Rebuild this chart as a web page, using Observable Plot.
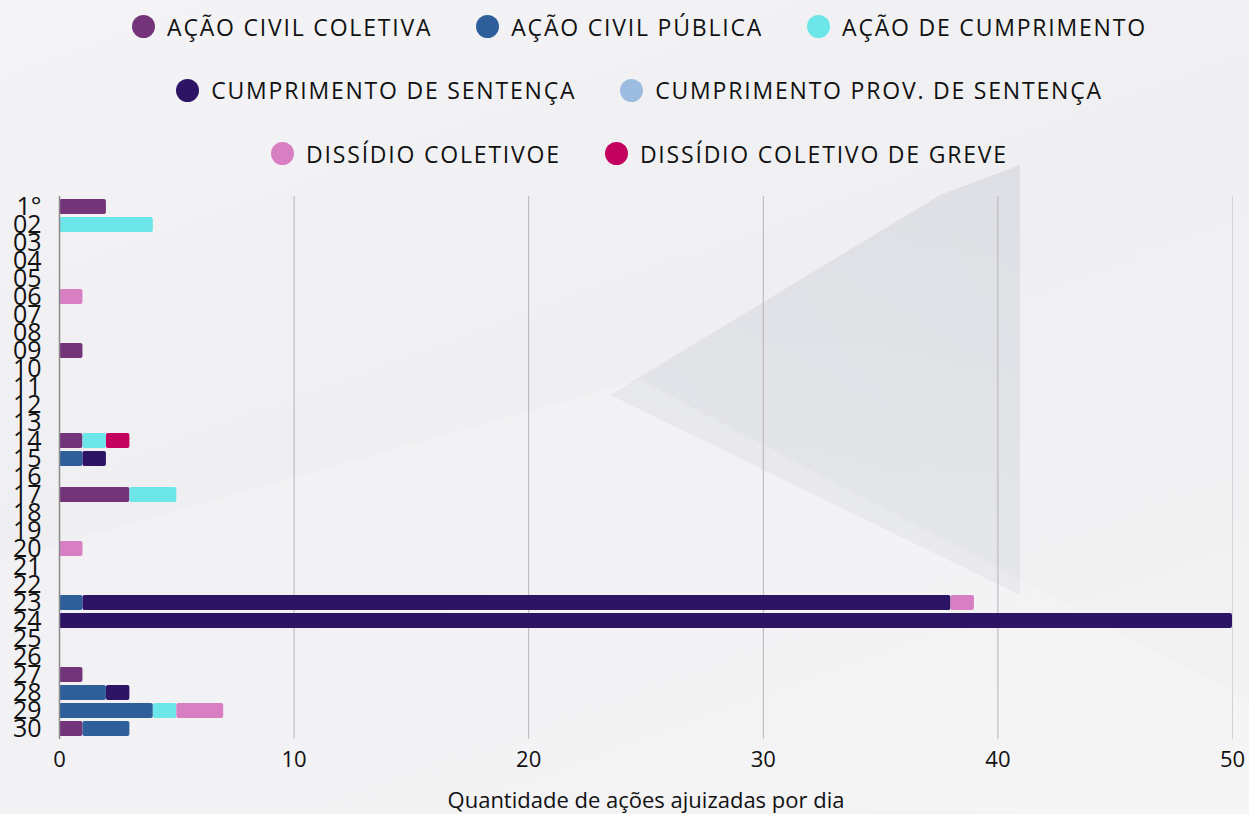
<!DOCTYPE html>
<html>
<head>
<meta charset="utf-8">
<script src="https://cdn.jsdelivr.net/npm/d3@7"></script>
<script src="https://cdn.jsdelivr.net/npm/@observablehq/plot@0.6"></script>
<style>
  html, body { margin: 0; padding: 0; }
  body {
    position: relative;
    width: 1249px; height: 814px; overflow: hidden;
    font-family: "Open Sans", sans-serif;
    background: linear-gradient(160deg, #f4f4f6 0%, #efeff2 45%, #f3f3f4 100%);
  }
  .deco { position: absolute; left: 0; top: 0; width: 1249px; height: 814px; pointer-events: none; }
  #deco1 { background: linear-gradient(200deg, rgba(150,160,178,0.24), rgba(170,178,190,0.06)); clip-path: polygon(610px 395px, 940px 195px, 1020px 165px, 1020px 595px); }
  #deco2 { background: rgba(255,255,255,0.18); clip-path: polygon(0px 560px, 640px 380px, 1249px 700px, 1249px 814px, 0px 814px); }
  #legend { position: relative; height: 185px; padding-left: 30px; box-sizing: border-box; }
  #legendInner { position: relative; top: -5px; }
  .row { display: flex; justify-content: center; align-items: center; height: 63.5px; }
  .item { display: flex; align-items: center; margin: 0 22px; font-size: 23px; letter-spacing: 1.8px; color: #111; white-space: nowrap; }
  .dot { width: 23px; height: 23px; border-radius: 50%; margin-right: 12px; }
  #chart { position: relative; }
  #chart svg { display: block; }
</style>
</head>
<body>
<div class="deco" id="deco1"></div>
<div class="deco" id="deco2"></div>
<div id="legend"><div id="legendInner"></div></div>
<div id="chart"></div>
<script>
const days = ["1°","02","03","04","05","06","07","08","09","10","11","12","13","14","15","16","17","18","19","20","21","22","23","24","25","26","27","28","29","30"];
const seriesNames = ["AÇÃO CIVIL COLETIVA","AÇÃO CIVIL PÚBLICA","AÇÃO DE CUMPRIMENTO","CUMPRIMENTO DE SENTENÇA","CUMPRIMENTO PROV. DE SENTENÇA","DISSÍDIO COLETIVOE","DISSÍDIO COLETIVO DE GREVE"];
const seriesColors = ["#74347a","#2e5f9a","#6de6ea","#2d1465","#9dbde0","#d87fc4","#c3005e"];
const legendRows = [[0,1,2],[3,4],[5,6]];

const acaoCivilColetiva      = [2,0,0,0,0,0,0,0,1,0,0,0,0,1,0,0,3,0,0,0,0,0,0,0,0,0,1,0,0,1];
const acaoCivilPublica       = [0,0,0,0,0,0,0,0,0,0,0,0,0,0,1,0,0,0,0,0,0,0,1,0,0,0,0,2,4,2];
const acaoDeCumprimento      = [0,4,0,0,0,0,0,0,0,0,0,0,0,1,0,0,2,0,0,0,0,0,0,0,0,0,0,0,1,0];
const cumprimentoSentenca    = [0,0,0,0,0,0,0,0,0,0,0,0,0,0,1,0,0,0,0,0,0,0,37,50,0,0,0,1,0,0];
const cumprimentoProvSent    = [0,0,0,0,0,0,0,0,0,0,0,0,0,0,0,0,0,0,0,0,0,0,0,0,0,0,0,0,0,0];
const dissidioColetivo       = [0,0,0,0,0,1,0,0,0,0,0,0,0,0,0,0,0,0,0,1,0,0,1,0,0,0,0,0,2,0];
const dissidioColetivoGreve  = [0,0,0,0,0,0,0,0,0,0,0,0,0,1,0,0,0,0,0,0,0,0,0,0,0,0,0,0,0,0];
const seriesValues = [acaoCivilColetiva, acaoCivilPublica, acaoDeCumprimento, cumprimentoSentenca, cumprimentoProvSent, dissidioColetivo, dissidioColetivoGreve];
const xTicks = [0,10,20,30,40,50];
const gridTicks = [10,20,30,40];
const xLabel = "Quantidade de ações ajuizadas por dia";

// legend
const legend = document.getElementById("legendInner");
for (const r of legendRows) {
  const row = document.createElement("div");
  row.className = "row";
  for (const i of r) {
    const it = document.createElement("div");
    it.className = "item";
    const dot = document.createElement("span");
    dot.className = "dot";
    dot.style.background = seriesColors[i];
    it.appendChild(dot);
    it.appendChild(document.createTextNode(seriesNames[i]));
    row.appendChild(it);
  }
  legend.appendChild(row);
}

const rows = [];
seriesNames.forEach((s, si) => {
  seriesValues[si].forEach((v, di) => {
    if (v > 0) rows.push({day: days[di], series: s, value: v});
  });
});

const chart = Plot.plot({
  width: 1249,
  height: 629,
  marginTop: 11,
  marginBottom: 75,
  marginLeft: 59,
  marginRight: 17,
  style: {background: "transparent", fontFamily: "Open Sans, sans-serif", color: "#111"},
  x: {domain: [0, 50]},
  y: {domain: days, padding: 0.16},
  color: {domain: seriesNames, range: seriesColors},
  marks: [
    Plot.ruleX(gridTicks, {stroke: "#b4b4b8", strokeWidth: 1}),
    Plot.ruleX([50], {stroke: "#d4d4d8", strokeWidth: 1}),
    Plot.barX(rows, {x: "value", y: "day", fill: "series", order: seriesNames, rx: 2}),
    Plot.ruleX([0], {stroke: "#8a8a8a", strokeWidth: 1.5}),
    Plot.axisX({ticks: xTicks, tickSize: 0, tickPadding: 12, fontSize: 22, label: xLabel, labelAnchor: "center", labelOffset: 68, labelArrow: "none"}),
    Plot.axisY({tickSize: 0, tickPadding: 18, fontSize: 25, label: null})
  ]
});
document.getElementById("chart").appendChild(chart);
</script>
</body>
</html>
